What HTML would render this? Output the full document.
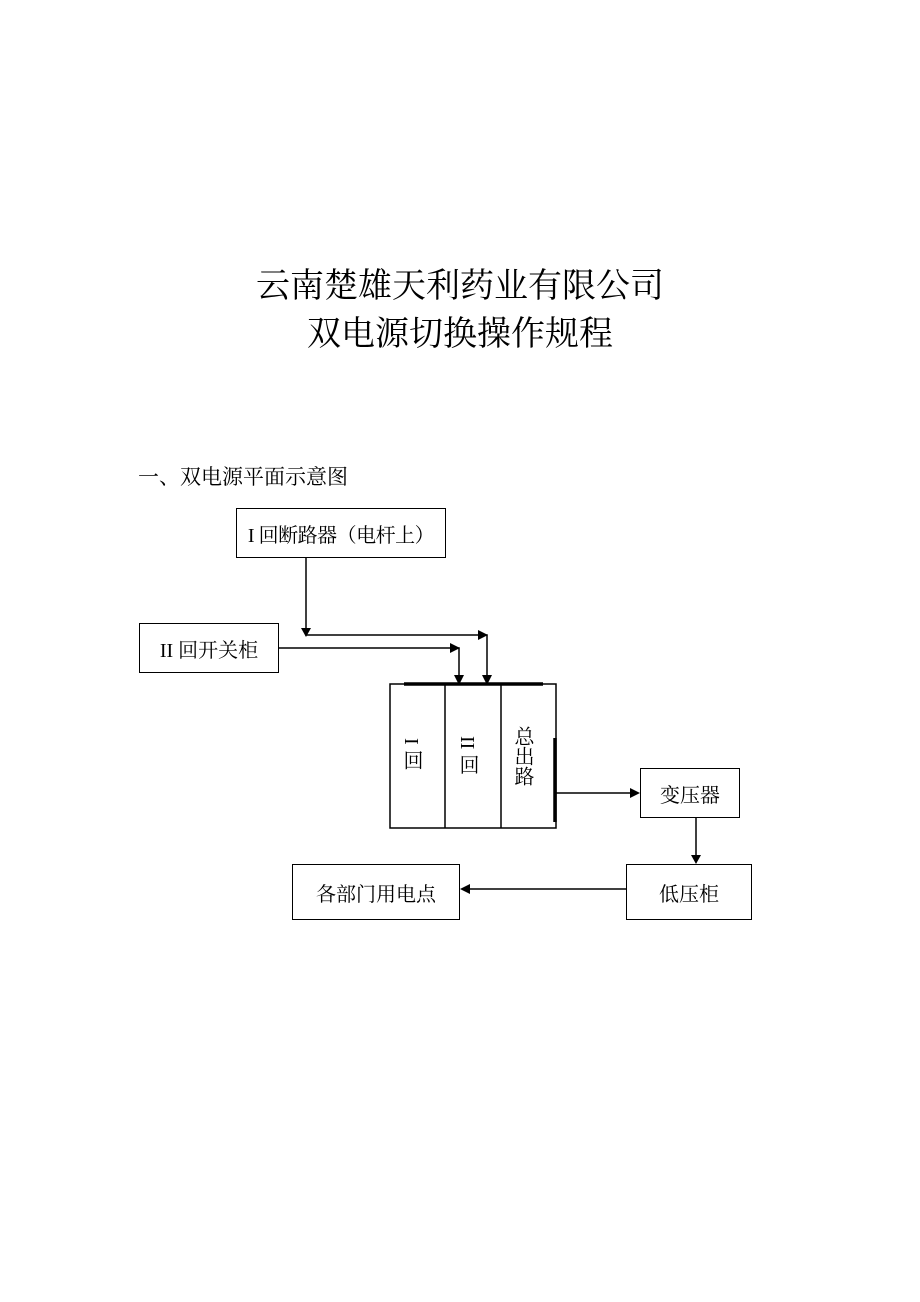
<!DOCTYPE html>
<html><head><meta charset="utf-8"><style>
body{margin:0;background:#fff;width:920px;height:1302px;position:relative;font-family:"Liberation Serif","Noto Serif CJK SC",serif;color:#000}
.t{position:absolute;white-space:nowrap}
.b{position:absolute;border:1.5px solid #000;box-sizing:border-box;display:flex;align-items:center;justify-content:center;font-size:20px}
.v{writing-mode:vertical-rl;font-size:20px;position:absolute}
</style></head><body>
<div class="t" style="left:0;width:920px;text-align:center;top:258px;font-size:34px">云南楚雄天利药业有限公司</div>
<div class="t" style="left:0;width:920px;text-align:center;top:306px;font-size:34px">双电源切换操作规程</div>
<div class="t" style="left:138px;top:461px;font-size:21px">一、双电源平面示意图</div>
<div class="b" style="left:236px;top:508px;width:210px;height:50px;letter-spacing:-0.5px">I 回断路器（电杆上）</div>
<div class="b" style="left:139px;top:623px;width:140px;height:50px">II 回开关柜</div>
<div class="b" style="left:640px;top:768px;width:100px;height:50px">变压器</div>
<div class="b" style="left:626px;top:864px;width:126px;height:56px">低压柜</div>
<div class="b" style="left:292px;top:864px;width:168px;height:56px">各部门用电点</div>
<svg width="920" height="1302" style="position:absolute;left:0;top:0">
<g stroke="#000" stroke-width="1.5" fill="none">
<rect x="390" y="684" width="166" height="144"/>
<line x1="445" y1="684" x2="445" y2="828"/>
<line x1="501" y1="684" x2="501" y2="828"/>
<polyline points="306,557 306,635 487,635 487,677"/>
<polyline points="278,648 459,648 459,677"/>
<line x1="556" y1="793" x2="632" y2="793"/>
<line x1="696" y1="818" x2="696" y2="856"/>
<line x1="626" y1="889" x2="468" y2="889"/>
</g>
<line x1="404" y1="684" x2="543" y2="684" stroke="#000" stroke-width="3.5"/>
<line x1="555" y1="738" x2="555" y2="822" stroke="#000" stroke-width="3.5"/>
<g fill="#000">
<polygon points="301,628 311,628 306,637"/>
<polygon points="478,630 478,640 488,635"/>
<polygon points="450,643 450,653 460,648"/>
<polygon points="482,675 492,675 487,685"/>
<polygon points="454,675 464,675 459,685"/>
<polygon points="630,788 630,798 640,793"/>
<polygon points="691,855 701,855 696,864"/>
<polygon points="470,884 470,894 460,889"/>
</g>
</svg>
<div class="v" style="left:397px;top:738px">I 回</div>
<div class="v" style="left:453px;top:736px">II 回</div>
<div class="v" style="left:508px;top:726px;text-orientation:upright">总出路</div>
</body></html>
